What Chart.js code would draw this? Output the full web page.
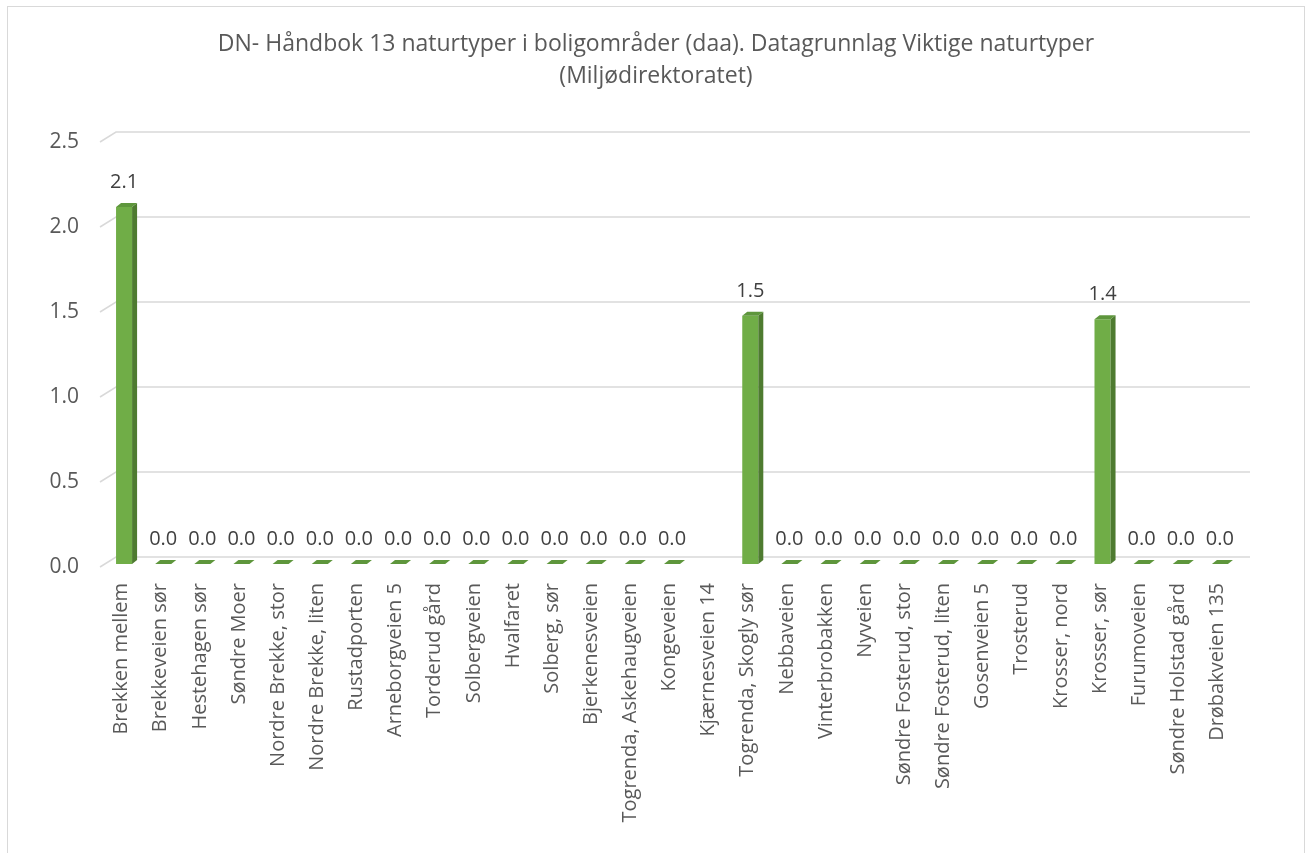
<!DOCTYPE html>
<html>
<head>
<meta charset="utf-8">
<script src="https://cdn.jsdelivr.net/npm/chart.js@4.4.1/dist/chart.umd.min.js"></script>
<style>
  html, body { margin: 0; padding: 0; background: #ffffff; }
  canvas { display: block; }
</style>
</head>
<body>
<canvas id="chart" width="1306" height="853"></canvas>
<script>
// Areas (daa) per boligområde
const categories = [
    'Brekken mellem', 'Brekkeveien sør', 'Hestehagen sør', 'Søndre Moer',
    'Nordre Brekke, stor', 'Nordre Brekke, liten', 'Rustadporten', 'Arneborgveien 5',
    'Torderud gård', 'Solbergveien', 'Hvalfaret', 'Solberg, sør', 'Bjerkenesveien',
    'Togrenda, Askehaugveien', 'Kongeveien', 'Kjærnesveien 14', 'Togrenda, Skogly sør',
    'Nebbaveien', 'Vinterbrobakken', 'Nyveien', 'Søndre Fosterud, stor',
    'Søndre Fosterud, liten', 'Gosenveien 5', 'Trosterud', 'Krosser, nord',
    'Krosser, sør', 'Furumoveien', 'Søndre Holstad gård', 'Drøbakveien 135'
];
const values = [
    2.1, 0, 0, 0, 0, 0, 0, 0, 0, 0, 0, 0, 0, 0, 0,
    null, 1.46, 0, 0, 0, 0, 0, 0, 0, 0, 1.44, 0, 0, 0
];
const yTicks = [0, 0.5, 1.0, 1.5, 2.0, 2.5];
const titleLines = [
    'DN- Håndbok 13 naturtyper i boligområder (daa). Datagrunnlag Viktige naturtyper',
    '(Miljødirektoratet)'
];

const FONT = '"Open Sans", "Liberation Sans", sans-serif';
const TEXT = '#595959';
const GRID = '#d9d9d9';

// fake 3D look: side and top faces, back-wall gridlines
const depthX = 5, depthY = 4;
const shiftX = 2.5, shiftY = -3;

const bars3d = {
    id: 'bars3d',
    beforeDraw(chart) {
        const ctx = chart.ctx;
        const area = chart.chartArea;
        const y = chart.scales.y;
        ctx.save();
        // outer frame
        ctx.strokeStyle = GRID;
        ctx.lineWidth = 1;
        ctx.strokeRect(7.5, 6.5, 1297, 900);
        // title, centred on the whole frame
        ctx.fillStyle = TEXT;
        ctx.font = '23px ' + FONT;
        ctx.textAlign = 'center';
        ctx.textBaseline = 'middle';
        titleLines.forEach((line, i) => ctx.fillText(line, 656, 44 + i * 32));
        // gridlines with slanted floor/wall edge
        ctx.strokeStyle = GRID;
        ctx.lineWidth = 1.5;
        y.ticks.forEach(t => {
            const py = y.getPixelForValue(t.value);
            ctx.beginPath();
            ctx.moveTo(area.left - 2, py);
            ctx.lineTo(area.left + 14, py - 10);
            ctx.lineTo(area.right + 13, py - 10);
            ctx.stroke();
        });
        ctx.restore();
    },
    beforeDatasetsDraw(chart) {
        chart.ctx.save();
        chart.ctx.translate(shiftX, shiftY);
    },
    afterDatasetsDraw(chart) {
        const ctx = chart.ctx;
        const meta = chart.getDatasetMeta(0);
        meta.data.forEach((bar, i) => {
            if (values[i] === null) return;
            const p = bar.getProps(['x', 'y', 'base', 'width'], true);
            const x0 = p.x - p.width / 2, x1 = p.x + p.width / 2;
            if (p.base - p.y > 0.5) {
                ctx.fillStyle = '#4E7B30';
                ctx.beginPath();
                ctx.moveTo(x1, p.y);
                ctx.lineTo(x1 + depthX, p.y - depthY);
                ctx.lineTo(x1 + depthX, p.base - depthY);
                ctx.lineTo(x1, p.base);
                ctx.closePath();
                ctx.fill();
            }
            ctx.fillStyle = '#5E963C';
            ctx.beginPath();
            ctx.moveTo(x0, p.y);
            ctx.lineTo(x0 + depthX, p.y - depthY);
            ctx.lineTo(x1 + depthX, p.y - depthY);
            ctx.lineTo(x1, p.y);
            ctx.closePath();
            ctx.fill();
        });
        ctx.restore();

        // value labels
        ctx.save();
        ctx.font = '20px ' + FONT;
        ctx.fillStyle = '#404040';
        ctx.textAlign = 'center';
        ctx.textBaseline = 'middle';
        meta.data.forEach((bar, i) => {
            if (values[i] === null) return;
            const p = bar.getProps(['x', 'y'], true);
            ctx.fillText(values[i].toFixed(1), p.x + shiftX, p.y + shiftY - 24.5);
        });
        ctx.restore();
    }
};

new Chart(document.getElementById('chart'), {
    type: 'bar',
    data: {
        labels: categories,
        datasets: [{
            data: values,
            backgroundColor: '#70AD47',
            borderWidth: 0,
            categoryPercentage: 1.0,
            barPercentage: 0.41
        }]
    },
    options: {
        responsive: false,
        devicePixelRatio: 1,
        animation: false,
        layout: {
            padding: { left: 0, right: 69, top: 142, bottom: 0 }
        },
        plugins: {
            legend: { display: false },
            tooltip: { enabled: false },
            title: { display: false }
        },
        scales: {
            x: {
                grid: { display: false, drawTicks: false },
                border: { display: false },
                ticks: {
                    autoSkip: false,
                    maxRotation: 90,
                    minRotation: 90,
                    padding: 16,
                    color: TEXT,
                    font: { family: FONT, size: 20 }
                },
                afterFit(scale) { scale.height = 286; }
            },
            y: {
                min: 0,
                max: 2.5,
                afterBuildTicks(scale) {
                    scale.ticks = yTicks.map(v => ({ value: v }));
                },
                grid: { display: false, drawTicks: false },
                border: { display: false },
                ticks: {
                    padding: 23,
                    color: TEXT,
                    font: { family: FONT, size: 21 },
                    callback: v => Number(v).toFixed(1)
                },
                afterFit(scale) { scale.width = 102; }
            }
        }
    },
    plugins: [bars3d]
});
</script>
</body>
</html>
